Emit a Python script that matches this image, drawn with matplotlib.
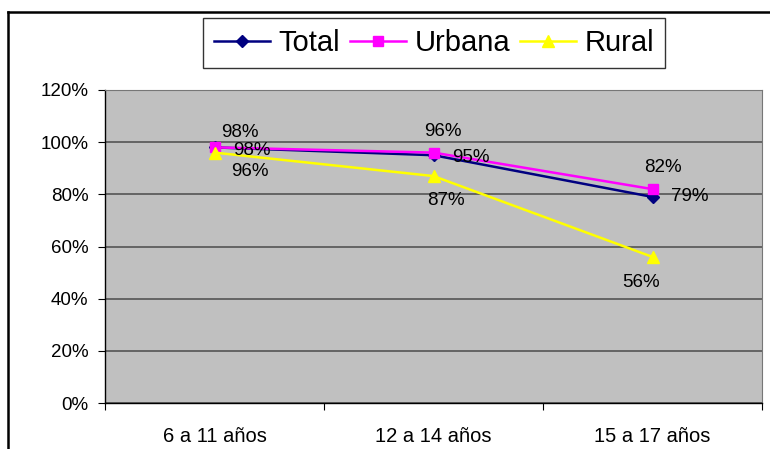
import matplotlib
matplotlib.use("Agg")
import matplotlib.pyplot as plt
from matplotlib.lines import Line2D
import numpy as np

categories = ["6 a 11 años", "12 a 14 años", "15 a 17 años"]
total = [98, 95, 79]
urbana = [98, 96, 82]
rural = [96, 87, 56]
yticks = [0, 20, 40, 60, 80, 100, 120]

plt.rcParams['font.family'] = ['Liberation Sans', 'DejaVu Sans']

fig = plt.figure(figsize=(7.7, 4.49), dpi=100)
ax = fig.add_axes([105/770, 1-403/449, (762-105)/770, (403-90)/449])
ax.set_facecolor('#C0C0C0')

x = np.arange(len(categories))
series = [
    ("Total", total, '#000080', 'D', 6, [(37, -3), (37, -2), (37, 0)]),
    ("Urbana", urbana, '#FF00FF', 's', 7, [(25, 15), (9, 21), (10, 22)]),
    ("Rural", rural, '#FFFF00', '^', 8, [(35, -19), (12, -24), (-11, -26)]),
]
handles = []
for name, vals, col, mk, ms, offs in series:
    ax.plot(x, vals, color=col, marker=mk, markersize=ms, linewidth=1.8,
            markeredgecolor=col, zorder=3)
    handles.append(Line2D([], [], color=col, marker=mk, markersize=ms, linewidth=1.8))
    for xi, v, off in zip(x, vals, offs):
        ax.annotate(f"{v}%", (xi, v), xytext=off, textcoords='offset pixels',
                    ha='center', va='center', fontsize=13.5, color='black', zorder=4)

ax.set_xlim(-0.5, 2.5)
ax.set_ylim(0, 120)
ax.set_yticks(yticks)
ax.set_yticklabels([f"{t}%" for t in yticks], fontsize=13.5)
ax.yaxis.grid(True, color='#555555', linewidth=1.2)
ax.set_axisbelow(True)
ax.set_xticks([-0.5, 0.5, 1.5, 2.5])
ax.set_xticklabels([])
ax.set_xticks(x, minor=True)
ax.set_xticklabels(categories, minor=True, fontsize=14.5)
ax.tick_params(axis='x', which='minor', length=0, pad=17)
ax.tick_params(axis='x', which='major', length=5, direction='out', color='black')
ax.tick_params(axis='y', length=5, direction='out', color='black', pad=7)
for s in ['top', 'right']:
    ax.spines[s].set_color('#777777')
for s in ['left', 'bottom']:
    ax.spines[s].set_color('black')
    ax.spines[s].set_linewidth(1.0)

leg = fig.legend(handles, [s[0] for s in series], loc='center',
                 bbox_to_anchor=(434/770, 1-43/449), ncol=3, fontsize=21,
                 frameon=True, fancybox=False, edgecolor='black',
                 handlelength=1.9, handletextpad=0.3, columnspacing=0.35,
                 borderpad=0.38, borderaxespad=0)
leg.get_frame().set_linewidth(1.0)

# outer chart border (left and top visible)
fig.add_artist(Line2D([8/770, 8/770], [0, 1-12/449], transform=fig.transFigure,
                      color='black', linewidth=1.8))
fig.add_artist(Line2D([8/770, 1], [1-12/449, 1-12/449], transform=fig.transFigure,
                      color='black', linewidth=1.8))

fig.savefig("out.png", dpi=100)
